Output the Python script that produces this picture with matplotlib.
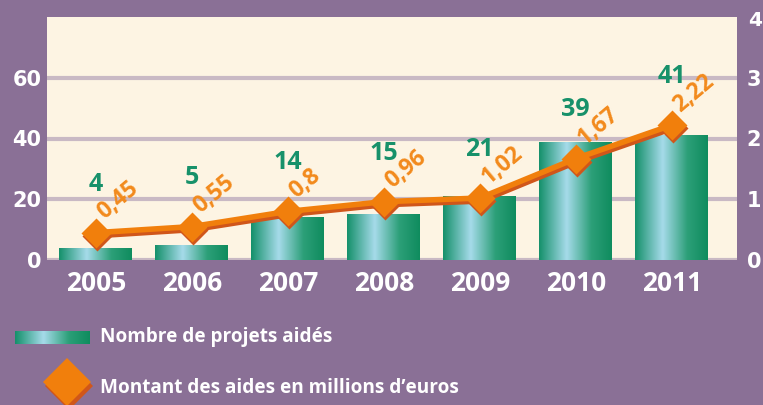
import matplotlib.pyplot as plt
import matplotlib.transforms as mtransforms
from matplotlib.colors import LinearSegmentedColormap
from matplotlib.patches import Rectangle, Polygon
import numpy as np

years = ["2005", "2006", "2007", "2008", "2009", "2010", "2011"]
projets = [4, 5, 14, 15, 21, 39, 41]
montants = [0.45, 0.55, 0.8, 0.96, 1.02, 1.67, 2.22]
montant_labels = ["0,45", "0,55", "0,8", "0,96", "1,02", "1,67", "2,22"]

purple = "#8a7096"
cream = "#fdf4e3"
grid_col = "#c9b9c4"
green_txt = "#17916a"
orange = "#f17f0c"
orange_dark = "#d0561a"
orange_txt = "#f28a1c"

bar_cmap = LinearSegmentedColormap.from_list(
    "bar", [(0, "#14906a"), (0.38, "#a6dbea"), (0.72, "#2c9f78"), (1, "#0f8c5e")])

plt.rcParams['font.family'] = ['Open Sans', 'DejaVu Sans']
plt.rcParams['font.weight'] = 'bold'

fig = plt.figure(figsize=(7.63, 4.05), dpi=100, facecolor=purple)
ax = fig.add_axes([47 / 763, 145 / 405, 690 / 763, 243 / 405])
ax.set_facecolor(cream)
for s in ax.spines.values():
    s.set_visible(False)

x = np.arange(len(years))
ax.set_yticks([0, 20, 40, 60])
ax.yaxis.grid(True, color=grid_col, linewidth=3)
ax.set_axisbelow(True)
ax.tick_params(length=0)
ax.tick_params(axis='y', pad=4, labelsize=15, labelcolor='white')
ax.tick_params(axis='x', pad=7, labelsize=19, labelcolor='white')
ax.set_xticks(x)
ax.set_xticklabels(years)
for lab in ax.get_yticklabels():
    lab.set_family(['DejaVu Sans'])

# bars with horizontal gradient
grad = np.linspace(0, 1, 256).reshape(1, -1)
bars = ax.bar(x, projets, width=0.76, color='none', zorder=2)
for b in bars:
    x0, w, h = b.get_x(), b.get_width(), b.get_height()
    im = ax.imshow(grad, cmap=bar_cmap, aspect='auto', zorder=2,
                   extent=[x0, x0 + w, 0, h], interpolation='bicubic')
    im.set_clip_path(b)
ax.set_xlim(-0.51, 6.68)
ax.set_ylim(0, 80)

# right axis for amounts
ax2 = ax.twinx()
ax2.set_ylim(0, 4)
ax2.set_yticks([0, 1, 2, 3, 4])
for s in ax2.spines.values():
    s.set_visible(False)
ax2.tick_params(length=0, pad=7, labelsize=15, labelcolor='white')
for lab in ax2.get_yticklabels():
    lab.set_family(['DejaVu Sans'])
ax2.set_yticklabels(["0", "1", "2", "3", ""])
fig.text(748 / 763, 1 - 21 / 405, "4", color='white', fontsize=14.5,
         family='DejaVu Sans', fontweight='bold', ha='left', va='center')

shade = mtransforms.offset_copy(ax2.transData, fig=fig, x=1.5, y=-3, units='dots')
ax2.plot(x, montants, color=orange_dark, lw=4, marker='D', ms=15,
         mec='none', transform=shade, zorder=3)
ax2.plot(x, montants, color=orange, lw=4, marker='D', ms=15,
         mec='none', zorder=4)

for xi, v, lab, p in zip(x, montants, montant_labels, projets):
    ax2.annotate(lab, (xi, v), xytext=(9, 6), textcoords='offset points',
                 color=orange_txt, fontsize=16.5, fontweight='bold',
                 rotation=40, rotation_mode='anchor', ha='left', va='bottom',
                 zorder=5)
    ax2.annotate(str(p), (xi, v), xytext=(0, 35), textcoords='offset points',
                 color=green_txt, fontsize=18, fontweight='bold',
                 ha='center', va='center', zorder=5)

# legend drawn manually
lax = fig.add_axes([0, 0, 1, 1], facecolor='none')
lax.set_xlim(0, 763)
lax.set_ylim(405, 0)
lax.axis('off')
leg_rect = Rectangle((15, 331), 75, 13, facecolor='none', edgecolor='none')
lax.add_patch(leg_rect)
im = lax.imshow(grad, cmap=bar_cmap, aspect='auto', extent=[15, 90, 344, 331],
                interpolation='bicubic')
im.set_clip_path(leg_rect)
lax.add_patch(Polygon([(69, 362), (93, 386), (69, 410), (45, 386)],
                      closed=True, facecolor=orange_dark, edgecolor='none'))
lax.add_patch(Polygon([(67, 358), (91, 382), (67, 406), (43, 382)],
                      closed=True, facecolor=orange, edgecolor='none'))
lax.text(100, 337, "Nombre de projets aidés", color='white', fontsize=13.7,
         fontweight='bold', va='center', ha='left')
lax.text(100, 388, "Montant des aides en millions d\u2019euros", color='white',
         fontsize=13.7, fontweight='bold', va='center', ha='left')

fig.savefig("out.png", dpi=100, facecolor=purple)
